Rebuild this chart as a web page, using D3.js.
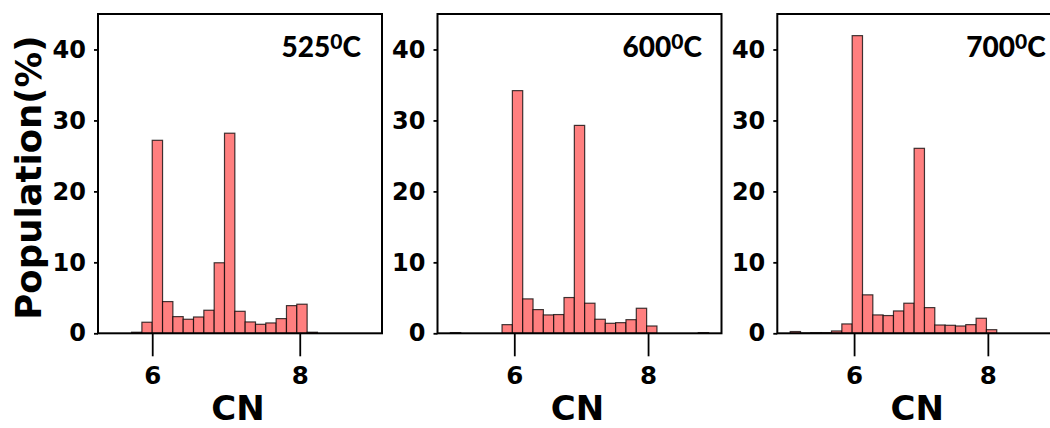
<!DOCTYPE html>
<html>
<head>
<meta charset="utf-8">
<script src="https://cdn.jsdelivr.net/npm/d3@7"></script>
<style>
  html, body { margin: 0; padding: 0; background: #fff; }
  svg { display: block; }
</style>
</head>
<body>
<svg id="chart" width="1050" height="428"></svg>
<script>
// Temperatures of the three runs (panel titles)
const temperatures = ["525", "600", "700"];

// Histogram bin range (CN) for each run; 25 equal-width bins between lo and hi
const binLo = [5.44, 5.045, 5.045];
const binHi = [8.94, 8.905, 8.905];
const binCount = 25;

// Population (%) per bin, one list per temperature
const pop525 = [0, 0, 0.15, 1.56, 27.2, 4.47, 2.35, 1.98, 2.3, 3.25, 9.94, 28.2, 3.1,
                1.6, 1.27, 1.46, 2.07, 3.9, 4.1, 0.15, 0, 0, 0, 0, 0];
const pop600 = [0.1, 0, 0, 0, 0, 1.22, 34.2, 4.85, 3.34, 2.59, 2.64, 5.04, 29.3,
                4.24, 1.98, 1.41, 1.5, 1.92, 3.53, 1.03, 0, 0, 0, 0, 0.1];
const pop700 = [0.25, 0.05, 0.1, 0.1, 0.33, 1.32, 41.95, 5.42, 2.59, 2.5, 3.15, 4.24, 26.07,
                3.62, 1.17, 1.13, 1.03, 1.22, 2.12, 0.51, 0, 0, 0, 0, 0];

// Axis ticks
const xTicks = [6, 8];
const yTicks = [0, 10, 20, 30, 40];
const yMax = 45;

const xLabel = "CN";
const yLabel = "Population(%)";

const series = [pop525, pop600, pop700];

// ---- layout ----
const panelLeft = [98, 437.5, 777.3];
const panelWidth = 284;
const plotTop = 14, plotBottom = 333.3;
const titleOffset = [183.5, 185, 189];

const tickFont = "'DejaVu Sans', sans-serif";
const titleFont = "Lato, 'Open Sans', sans-serif";

const svg = d3.select("#chart");

const y = d3.scaleLinear().domain([0, yMax]).range([plotBottom, plotTop]);

series.forEach((vals, p) => {
  const lo = binLo[p], hi = binHi[p];
  const w = (hi - lo) / binCount;
  const pad = (hi - lo) * 0.05;
  const x0 = panelLeft[p];
  const x = d3.scaleLinear().domain([lo - pad, hi + pad]).range([x0, x0 + panelWidth]);

  const bins = vals.map((v, i) => ({ a: lo + i * w, b: lo + (i + 1) * w, v }));

  const g = svg.append("g");

  // bars
  g.selectAll("rect.bar")
    .data(bins.filter(d => d.v > 0))
    .join("rect")
    .attr("class", "bar")
    .attr("x", d => x(d.a))
    .attr("width", d => x(d.b) - x(d.a))
    .attr("y", d => y(d.v))
    .attr("height", d => y(0) - y(d.v))
    .attr("fill", "#ff7f7f")
    .attr("stroke", "#000")
    .attr("stroke-opacity", 0.75)
    .attr("stroke-width", 1.2);

  // frame
  g.append("rect")
    .attr("x", x0).attr("y", plotTop)
    .attr("width", panelWidth).attr("height", plotBottom - plotTop)
    .attr("fill", "none")
    .attr("stroke", "#000")
    .attr("stroke-width", 2);

  // x axis
  const xAxis = d3.axisBottom(x).tickValues(xTicks).tickSize(23).tickPadding(10)
    .tickFormat(d3.format("d"));
  const gx = g.append("g").attr("transform", `translate(0,${plotBottom})`).call(xAxis);
  gx.select(".domain").remove();
  gx.selectAll(".tick line").attr("stroke", "#000").attr("stroke-width", 1.8);
  gx.selectAll(".tick text")
    .attr("font-family", tickFont).attr("font-weight", "bold")
    .attr("font-size", 24.5).attr("fill", "#000");

  // y axis
  const yAxis = d3.axisLeft(y).tickValues(yTicks).tickSize(4).tickPadding(8)
    .tickFormat(d3.format("d"));
  const gy = g.append("g").attr("transform", `translate(${x0},0)`).call(yAxis);
  gy.select(".domain").remove();
  gy.selectAll(".tick line").attr("stroke", "#000").attr("stroke-width", 1.8);
  gy.selectAll(".tick text")
    .attr("font-family", tickFont).attr("font-weight", "bold")
    .attr("font-size", 24).attr("fill", "#000");

  // x label
  g.append("text")
    .attr("x", x0 + panelWidth / 2 - 2)
    .attr("y", 420)
    .attr("text-anchor", "middle")
    .attr("font-family", tickFont).attr("font-weight", "bold")
    .attr("font-size", 34)
    .text(xLabel);

  // temperature label with superscript degree zero
  const t = g.append("text")
    .attr("x", x0 + titleOffset[p])
    .attr("y", 57.3)
    .attr("font-family", titleFont).attr("font-weight", 900)
    .attr("font-size", 28)
    .attr("fill", "#000");
  t.append("tspan").text(temperatures[p]);
  t.append("tspan").attr("dy", -8).attr("font-size", 21).text("0");
  t.append("tspan").attr("dy", 8).text("C");
});

// shared y label
svg.append("text")
  .attr("transform", `translate(41,${(plotTop + plotBottom) / 2 + 4}) rotate(-90)`)
  .attr("text-anchor", "middle")
  .attr("font-family", tickFont).attr("font-weight", "bold")
  .attr("font-size", 35.5)
  .text(yLabel);
</script>
</body>
</html>
